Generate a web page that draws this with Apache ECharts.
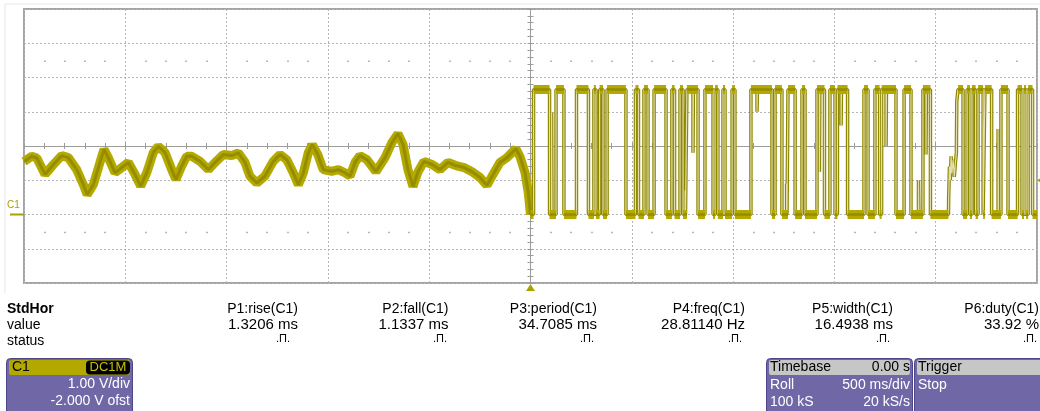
<!DOCTYPE html>
<html>
<head>
<meta charset="utf-8">
<script src="https://cdn.jsdelivr.net/npm/echarts@6/dist/echarts.min.js"></script>
<style>
html,body{margin:0;padding:0;background:#fff;}
#c{width:1040px;height:411px;}
</style>
</head>
<body>
<div id="c"></div>
<script>
// ---- Data (time in ms relative to trigger, voltage in V) ----
const analogMs = [-2500,-2462,-2437,-2396,-2355,-2314,-2281,-2240,-2207,-2188,-2158,-2125,-2105,-2084,-2051,-2018,-1985,-1952,-1924,-1894,-1862,-1837,-1804,-1771,-1750,-1722,-1697,-1672,-1631,-1590,-1557,-1516,-1475,-1442,-1409,-1385,-1351,-1311,-1270,-1236,-1203,-1171,-1146,-1121,-1097,-1077,-1050,-1023,-981,-949,-916,-891,-866,-842,-807,-763,-718,-684,-654,-629,-605,-580,-555,-526,-486,-447,-407,-368,-328,-289,-249,-215,-185,-151,-116,-86,-72,-52,-27,-11,0];
const analogV  = [1.55,1.70,1.65,1.17,1.46,1.72,1.66,1.31,0.87,0.58,0.87,1.52,1.90,1.66,1.22,1.37,1.52,1.17,0.83,1.22,1.81,1.99,1.81,1.31,1.02,1.41,1.70,1.70,1.55,1.31,1.52,1.75,1.72,1.80,1.52,1.12,0.92,1.12,1.55,1.75,1.60,1.22,0.87,1.22,1.80,2.04,1.75,1.31,1.26,1.31,1.22,1.12,1.52,1.72,1.60,1.25,1.66,2.10,2.36,2.04,1.31,0.82,1.25,1.55,1.46,1.31,1.52,1.43,1.37,1.25,1.08,0.85,1.17,1.52,1.66,1.84,1.92,1.69,1.22,0.64,0.00];
// logic edges (level toggles, starting low at t = 0)
const edgeMs = [15,94,126,165,227,286,313,323,341,358,378,471,518,533,560,580,610,669,698,711,738,753,772,827,861,901,911,925,950,960,995,1009,1088,1192,1207,1241,1271,1306,1340,1355,1414,1451,1478,1503,1515,1565,1646,1666,1700,1723,1733,1804,1844,1878,1937,1974,2135,2155,2169,2179,2197,2209,2234,2243,2276,2322,2357,2404,2426,2436,2446,2456,2478];
const highV = 3.65, lowV = 0.0;
// slow, noisy rise near +2.06 s (ends at high level)
const rampMs = [2063,2064,2068,2072,2076,2080,2086,2092,2097,2102,2104,2110];
const rampV  = [0.0,0.5,1.4,1.0,1.7,1.2,1.6,1.1,1.5,1.8,3.3,3.65];
// partial glitches
const glitchMs = [104,763,802,1118,1264,1426,1533,1755,1915,1952,2308];
const glitchV  = [2.97,0.7,1.8,3.0,0.9,1.25,2.6,2.0,1.0,1.75,2.5];
const trigLevelV = 1.0;
// axis
const xMin = -2500, xMax = 2500, xStep = 500;
const yMin = -2, yMax = 6, yStep = 1;
// readouts
const measureNames  = ['P1:rise(C1)','P2:fall(C1)','P3:period(C1)','P4:freq(C1)','P5:width(C1)','P6:duty(C1)'];
const measureValues = ['1.3206 ms','1.1337 ms','34.7085 ms','28.81140 Hz','16.4938 ms','33.92 %'];
const rowLabels = ['StdHor','value','status'];
const chLines = ['1.00 V/div','-2.000 V ofst'];
const tbHead = ['Timebase','0.00 s'];
const tbLines = [['Roll','500 ms/div'],['100 kS','20 kS/s']];
const trigHead = 'Trigger', trigState = 'Stop';

// ---- build ----
const analog = analogMs.map((t,i)=>[t,analogV[i]]);
const dig = [], plat = [];
(function(){
  const ev = [];
  edgeMs.forEach(t=>ev.push({t:t,k:'e'}));
  glitchMs.forEach((t,i)=>ev.push({t:t,k:'g',v:glitchV[i]}));
  ev.push({t:rampMs[0],k:'r'});
  ev.sort((a,b)=>a.t-b.t);
  let cur = lowV, start = 0;
  dig.push([0,lowV]);
  ev.forEach(e=>{
    if(e.k==='e'){
      dig.push([e.t,cur]); plat.push([start,cur],[e.t,cur],[e.t,'-']);
      cur = (cur===lowV)?highV:lowV; dig.push([e.t,cur]); start=e.t;
    } else if(e.k==='g'){
      dig.push([e.t,cur],[e.t,e.v],[e.t+2,cur]);
    } else {
      dig.push([e.t,cur]); plat.push([start,cur],[e.t,cur],[e.t,'-']);
      rampMs.forEach((t,i)=>dig.push([t,rampV[i]]));
      cur = highV; start = rampMs[rampMs.length-1];
    }
  });
  dig.push([xMax,cur]); plat.push([start,cur],[xMax,cur]);
})();

const GL=24, GT=9, GW=1013, GH=274;
const chart = echarts.init(document.getElementById('c'), null, {renderer:'canvas'});
const gridCol = '#b4b4b4', axCol = '#9c9c9c';
function xa(extra){ return Object.assign({type:'value',min:xMin,max:xMax,interval:xStep,gridIndex:0,position:'bottom',
  axisLabel:{show:false},splitLine:{show:false},axisLine:{show:false,onZero:false},axisTick:{show:false}},extra); }
function ya(extra){ return Object.assign({type:'value',min:yMin,max:yMax,interval:yStep,gridIndex:0,position:'left',
  axisLabel:{show:false},splitLine:{show:false},axisLine:{show:false,onZero:false},axisTick:{show:false}},extra); }
const cy = GH/2, cx = GW/2;
const option = {
  animation:false,
  grid:{left:GL,top:GT,width:GW,height:GH,show:true,borderColor:'#a4a4a4',borderWidth:2,backgroundColor:'transparent',containLabel:false},
  xAxis:[
    xa({splitLine:{show:true,lineStyle:{color:gridCol,type:[2,2],width:1}}}),
    xa({offset:-cy,axisLine:{show:true,onZero:false,lineStyle:{color:axCol,width:1}},axisTick:{show:true,inside:true,length:3,lineStyle:{color:axCol}},minorTick:{show:true,splitNumber:5,length:3,lineStyle:{color:axCol}}}),
    xa({offset:-cy,axisTick:{show:true,inside:false,length:3,lineStyle:{color:axCol}},minorTick:{show:true,splitNumber:5,length:3,lineStyle:{color:axCol}}}),
    xa({offset:-(cy+2.5*GH/8),minorTick:{show:true,splitNumber:5,length:1.5,lineStyle:{color:'#a0a0a0',width:1.5}}}),
    xa({offset:-(cy-2.5*GH/8),minorTick:{show:true,splitNumber:5,length:1.5,lineStyle:{color:'#a0a0a0',width:1.5}}})
  ],
  yAxis:[
    ya({splitLine:{show:true,lineStyle:{color:gridCol,type:[2,2],width:1}}}),
    ya({offset:-cx,axisLine:{show:true,onZero:false,lineStyle:{color:axCol,width:1}},axisTick:{show:true,inside:true,length:3,lineStyle:{color:axCol}},minorTick:{show:true,splitNumber:5,length:3,lineStyle:{color:axCol}}}),
    ya({offset:-cx,axisTick:{show:true,inside:false,length:3,lineStyle:{color:axCol}},minorTick:{show:true,splitNumber:5,length:3,lineStyle:{color:axCol}}})
  ],
  series:[
    {type:'line',data:analog,showSymbol:false,symbol:'none',lineStyle:{color:'#b3a900',width:9},z:5,silent:true},
    {type:'line',data:analog,showSymbol:false,symbol:'none',lineStyle:{color:'#6f6a00',width:3,opacity:0.45},z:6,silent:true},
    {type:'line',data:dig,showSymbol:false,symbol:'none',lineStyle:{color:'#8e8700',width:3.5},z:5,silent:true},
    {type:'line',data:dig,showSymbol:false,symbol:'none',lineStyle:{color:'#e2deae',width:1.2},z:6,silent:true},
    {type:'line',data:plat,showSymbol:false,symbol:'none',connectNulls:false,lineStyle:{color:'#b3a900',width:9},z:7,silent:true},
    {type:'line',data:plat,showSymbol:false,symbol:'none',connectNulls:false,lineStyle:{color:'#6f6a00',width:2.5,opacity:0.45},z:8,silent:true}
  ]
};
chart.setOption(option);

// ---- decorations & readouts ----
const FF = '"Liberation Sans", Arial, sans-serif';
const p0 = chart.convertToPixel({xAxisIndex:0,yAxisIndex:0},[0,0]);
const pT = chart.convertToPixel({xAxisIndex:0,yAxisIndex:0},[0,trigLevelV]);
const yBot = GT+GH, xRight = GL+GW;
const olive = '#aaa100';
const g = [];
g.push({type:'polyline',shape:{points:[[5,293],[5,4],[1040,4]]},style:{stroke:'#e6e6e6',lineWidth:1,fill:null},silent:true});
// trigger time marker
g.push({type:'polygon',shape:{points:[[p0[0]-4.5,yBot+8],[p0[0]+4.5,yBot+8],[p0[0],yBot+1]]},style:{fill:olive},z:10});
// trigger level marker (right)
g.push({type:'polygon',shape:{points:[[xRight,pT[1]],[xRight+4,pT[1]-2.5],[xRight+4,pT[1]+2.5]]},style:{fill:olive},z:10});
// channel ground marker
g.push({type:'line',shape:{x1:10,y1:p0[1],x2:GL,y2:p0[1]},style:{stroke:olive,lineWidth:2},z:10});
g.push({type:'text',x:7,y:p0[1]-9,style:{text:'C1',font:'10px '+FF,fill:olive,verticalAlign:'middle',align:'left'},z:10});
// measurement table
const rowY = [309,325,341];
g.push({type:'text',x:7,y:rowY[0],style:{text:rowLabels[0],font:'bold 14px '+FF,fill:'#000',verticalAlign:'middle'}});
g.push({type:'text',x:7,y:rowY[1],style:{text:rowLabels[1],font:'14px '+FF,fill:'#000',verticalAlign:'middle'}});
g.push({type:'text',x:7,y:rowY[2],style:{text:rowLabels[2],font:'14px '+FF,fill:'#000',verticalAlign:'middle'}});
const colR = [298,448.5,597,745,893,1039];
const iconX = [283,440,587,735,883,1030];
measureNames.forEach((n,i)=>{
  g.push({type:'text',x:colR[i],y:rowY[0],style:{text:n,font:'14px '+FF,fill:'#000',align:'right',verticalAlign:'middle'}});
  g.push({type:'text',x:colR[i],y:rowY[1],style:{text:measureValues[i],font:'15px '+FF,fill:'#000',align:'right',verticalAlign:'middle'}});
  g.push({type:'text',x:iconX[i],y:rowY[2]-2,style:{text:'.\u03A0.',font:'11px '+FF,fill:'#000',align:'center',verticalAlign:'middle'}});
});
// channel panel
const purple = '#6f67a6', pBorder = '#4d4789';
g.push({type:'rect',shape:{x:6.5,y:358.5,width:126,height:60,r:4},style:{fill:purple,stroke:pBorder,lineWidth:1}});
g.push({type:'rect',shape:{x:9,y:360,width:121,height:15,r:2},style:{fill:'#b2a800'}});
g.push({type:'text',x:12,y:367.5,style:{text:'C1',font:'14px '+FF,fill:'#000',verticalAlign:'middle'}});
g.push({type:'rect',shape:{x:86,y:360.5,width:44,height:14,r:4},style:{fill:'#000'}});
g.push({type:'text',x:108,y:367.5,style:{text:'DC1M',font:'13px '+FF,fill:'#c8be10',align:'center',verticalAlign:'middle'}});
g.push({type:'text',x:130,y:384.5,style:{text:chLines[0],font:'14px '+FF,fill:'#fff',align:'right',verticalAlign:'middle'}});
g.push({type:'text',x:130,y:401.5,style:{text:chLines[1],font:'14px '+FF,fill:'#fff',align:'right',verticalAlign:'middle'}});
// timebase panel
g.push({type:'rect',shape:{x:766.5,y:358.5,width:146,height:60,r:4},style:{fill:purple,stroke:pBorder,lineWidth:1}});
g.push({type:'rect',shape:{x:769,y:360,width:141,height:15,r:2},style:{fill:'#c6c6c6'}});
g.push({type:'text',x:770,y:367.5,style:{text:tbHead[0],font:'14px '+FF,fill:'#000',verticalAlign:'middle'}});
g.push({type:'text',x:910,y:367.5,style:{text:tbHead[1],font:'14px '+FF,fill:'#000',align:'right',verticalAlign:'middle'}});
tbLines.forEach((r,i)=>{
  g.push({type:'text',x:770,y:385.5+i*17,style:{text:r[0],font:'14px '+FF,fill:'#fff',verticalAlign:'middle'}});
  g.push({type:'text',x:910,y:385.5+i*17,style:{text:r[1],font:'14px '+FF,fill:'#fff',align:'right',verticalAlign:'middle'}});
});
// trigger panel
g.push({type:'rect',shape:{x:914.5,y:358.5,width:140,height:60,r:4},style:{fill:purple,stroke:pBorder,lineWidth:1}});
g.push({type:'rect',shape:{x:917,y:360,width:135,height:15,r:2},style:{fill:'#c6c6c6'}});
g.push({type:'text',x:918,y:367.5,style:{text:trigHead,font:'14px '+FF,fill:'#000',verticalAlign:'middle'}});
g.push({type:'text',x:918,y:385.5,style:{text:trigState,font:'14px '+FF,fill:'#fff',verticalAlign:'middle'}});
chart.setOption({graphic:{elements:g}});
</script>
</body>
</html>
